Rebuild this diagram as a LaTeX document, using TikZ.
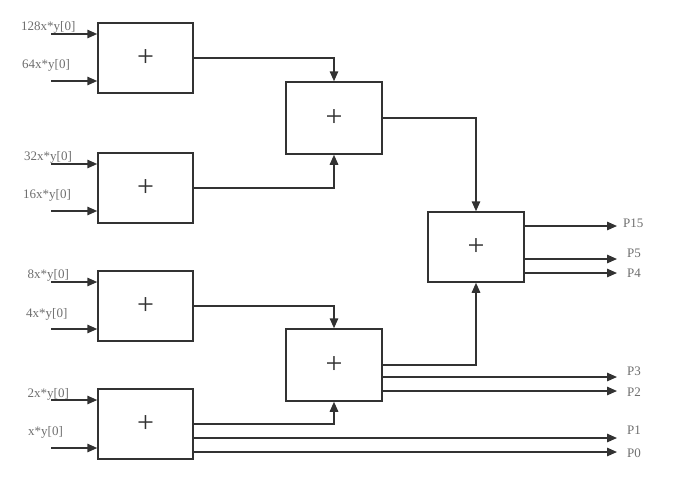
\documentclass[tikz,border=0pt]{standalone}
\usepackage{fontspec}
\setmainfont{Liberation Serif}
\usetikzlibrary{arrows.meta}
\definecolor{ln}{RGB}{50,50,50}
\definecolor{tx}{RGB}{110,110,110}
\tikzset{
  adder/.style={draw=ln, line width=1.5pt, fill=white, minimum width=95pt, minimum height=70pt, inner sep=0pt, font=\fontsize{30}{30}\selectfont, text=ln},
  wire/.style={draw=ln, line width=1.5pt},
  arr/.style={wire, -{Triangle[length=10pt,width=8.5pt]}},
  lab/.style={anchor=base west, inner sep=0pt, text=tx, font=\fontsize{13}{13}\selectfont},
}
\begin{document}
\begin{tikzpicture}[x=1pt,y=-1pt]
\useasboundingbox (0,0) rectangle (689,498);
% first-level adders
\node[adder] (a1) at (145.5,58) {+};
\node[adder] (a2) at (145.5,188) {+};
\node[adder] (a3) at (145.5,306) {+};
\node[adder] (a4) at (145.5,424) {+};
% second-level adders
\node[adder, minimum width=96pt, minimum height=72pt] (b1) at (334,118) {+};
\node[adder, minimum width=96pt, minimum height=72pt] (b2) at (334,365) {+};
% final adder
\node[adder, minimum width=96pt] (c) at (476,247) {+};
% input starts
\foreach \n/\y in {i1/34,i2/81,i3/164,i4/211,i5/282,i6/329,i7/400,i8/448}
  \coordinate (\n) at (51,\y);
\draw[arr] (i1) -- (i1 -| a1.west);
\draw[arr] (i2) -- (i2 -| a1.west);
\draw[arr] (i3) -- (i3 -| a2.west);
\draw[arr] (i4) -- (i4 -| a2.west);
\draw[arr] (i5) -- (i5 -| a3.west);
\draw[arr] (i6) -- (i6 -| a3.west);
\draw[arr] (i7) -- (i7 -| a4.west);
\draw[arr] (i8) -- (i8 -| a4.west);
% input labels
\node[lab] (l1) at (21,30) {128x*y[0]};
\node[lab] (l2) at (22,68) {64x*y[0]};
\node[lab] (l3) at (24,160) {32x*y[0]};
\node[lab] (l4) at (23,198) {16x*y[0]};
\node[lab] (l5) at (27.5,278) {8x*y[0]};
\node[lab] (l6) at (26,317) {4x*y[0]};
\node[lab] (l7) at (27.5,397) {2x*y[0]};
\node[lab] (l8) at (28,435) {x*y[0]};
% internal connections
\draw[arr] (a1.east) -| (b1.north);
\draw[arr] (a2.east) -| (b1.south);
\draw[arr] (a3.east) -| (b2.north);
\draw[arr] (a4.east) -| (b2.south);
\draw[arr] (b1.east) -| (c.north);
\draw[arr] (b2.east) -| (c.south);
% outputs
\foreach \n/\y in {o15/226,o5/259,o4/273,o3/377,o2/391,o1/438,o0/452}
  \coordinate (\n) at (617,\y);
\draw[arr] (c.east |- o15) -- (o15);
\draw[arr] (c.east |- o5) -- (o5);
\draw[arr] (c.east |- o4) -- (o4);
\draw[arr] (b2.east |- o3) -- (o3);
\draw[arr] (b2.east |- o2) -- (o2);
\draw[arr] (a4.east |- o1) -- (o1);
\draw[arr] (a4.east |- o0) -- (o0);
% output labels
\node[lab] (q15) at (623,227) {P15};
\node[lab] (q5) at (627,257) {P5};
\node[lab] (q4) at (627,277) {P4};
\node[lab] (q3) at (627,375) {P3};
\node[lab] (q2) at (627,396) {P2};
\node[lab] (q1) at (627,434) {P1};
\node[lab] (q0) at (627,457) {P0};
\end{tikzpicture}
\end{document}
